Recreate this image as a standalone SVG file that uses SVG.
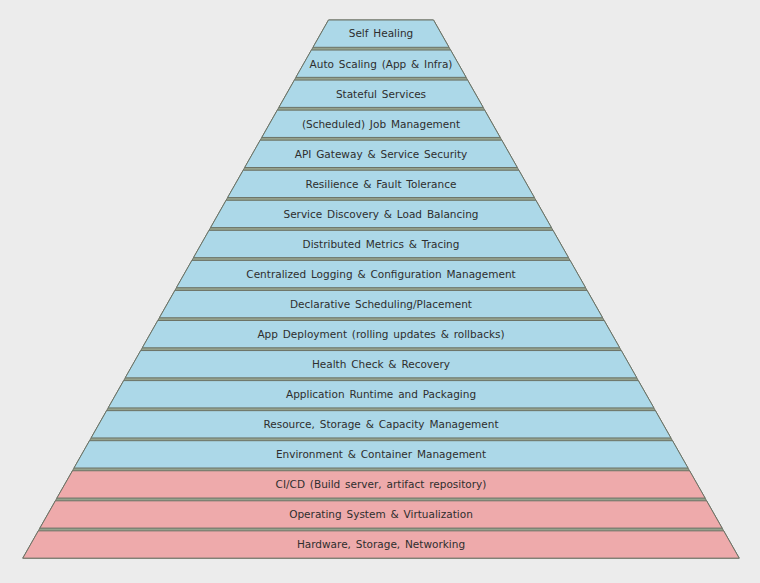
<svg xmlns="http://www.w3.org/2000/svg" width="760" height="583" viewBox="0 0 760 583">
  <style>
    .layer polygon { stroke: #6c7366; stroke-width: 1; stroke-linejoin: miter; }
    .blue polygon { fill: #acd8e8; }
    .red polygon { fill: #eeaaab; }
    .layer text { font-family: "DejaVu Sans", "Liberation Sans", sans-serif; font-size: 10.5px; fill: #2e2e2e; text-anchor: middle; word-spacing: 1.5px; }
  </style>
  <rect width="760" height="583" fill="#ececec"/>
  <!-- backing shape: its colour shows through the thin gaps between layers -->
  <polygon points="328.5,20 433.5,20 739.2,558.15 22.8,558.15" fill="#95a28d" stroke="#6c7366" stroke-width="1"/>

  <g id="l00" class="layer blue"><polygon points="328.5,20 433.5,20 449.0,47.3 313.0,47.3"/><text x="381" y="37.4">Self Healing</text></g>
  <g id="l01" class="layer blue"><polygon points="311.4,50.05 450.6,50.05 466.1,77.35 295.9,77.35"/><text x="381" y="67.5">Auto Scaling (App &amp; Infra)</text></g>
  <g id="l02" class="layer blue"><polygon points="294.4,80.1 467.6,80.1 483.2,107.4 278.9,107.4"/><text x="381" y="97.5">Stateful Services</text></g>
  <g id="l03" class="layer blue"><polygon points="277.3,110.15 484.7,110.15 500.2,137.45 261.8,137.45"/><text x="381" y="127.6">(Scheduled) Job Management</text></g>
  <g id="l04" class="layer blue"><polygon points="260.2,140.2 501.8,140.2 517.3,167.5 244.7,167.5"/><text x="381" y="157.6">API Gateway &amp; Service Security</text></g>
  <g id="l05" class="layer blue"><polygon points="243.2,170.25 518.9,170.25 534.4,197.55 227.6,197.55"/><text x="381" y="187.7">Resilience &amp; Fault Tolerance</text></g>
  <g id="l06" class="layer blue"><polygon points="226.1,200.3 535.9,200.3 551.4,227.6 210.6,227.6"/><text x="381" y="217.7">Service Discovery &amp; Load Balancing</text></g>
  <g id="l07" class="layer blue"><polygon points="209.0,230.35 553.0,230.35 568.5,257.65 193.5,257.65"/><text x="381" y="247.8">Distributed Metrics &amp; Tracing</text></g>
  <g id="l08" class="layer blue"><polygon points="191.9,260.4 570.1,260.4 585.6,287.7 176.4,287.7"/><text x="381" y="277.8">Centralized Logging &amp; Configuration Management</text></g>
  <g id="l09" class="layer blue"><polygon points="174.9,290.45 587.1,290.45 602.6,317.75 159.4,317.75"/><text x="381" y="307.9">Declarative Scheduling/Placement</text></g>
  <g id="l10" class="layer blue"><polygon points="157.8,320.5 604.2,320.5 619.7,347.8 142.3,347.8"/><text x="381" y="337.9">App Deployment (rolling updates &amp; rollbacks)</text></g>
  <g id="l11" class="layer blue"><polygon points="140.7,350.55 621.3,350.55 636.8,377.85 125.2,377.85"/><text x="381" y="368.0">Health Check &amp; Recovery</text></g>
  <g id="l12" class="layer blue"><polygon points="123.7,380.6 638.3,380.6 653.9,407.9 108.2,407.9"/><text x="381" y="398.0">Application Runtime and Packaging</text></g>
  <g id="l13" class="layer blue"><polygon points="106.6,410.65 655.4,410.65 670.9,437.95 91.1,437.95"/><text x="381" y="428.1">Resource, Storage &amp; Capacity Management</text></g>
  <g id="l14" class="layer blue"><polygon points="89.5,440.7 672.5,440.7 688.0,468.0 74.0,468.0"/><text x="381" y="458.1">Environment &amp; Container Management</text></g>
  <g id="l15" class="layer red"><polygon points="72.5,470.75 689.6,470.75 705.1,498.05 56.9,498.05"/><text x="381" y="488.2">CI/CD (Build server, artifact repository)</text></g>
  <g id="l16" class="layer red"><polygon points="55.4,500.8 706.6,500.8 722.1,528.1 39.9,528.1"/><text x="381" y="518.2">Operating System &amp; Virtualization</text></g>
  <g id="l17" class="layer red"><polygon points="38.3,530.85 723.7,530.85 739.2,558.15 22.8,558.15"/><text x="381" y="548.3">Hardware, Storage, Networking</text></g>
</svg>
